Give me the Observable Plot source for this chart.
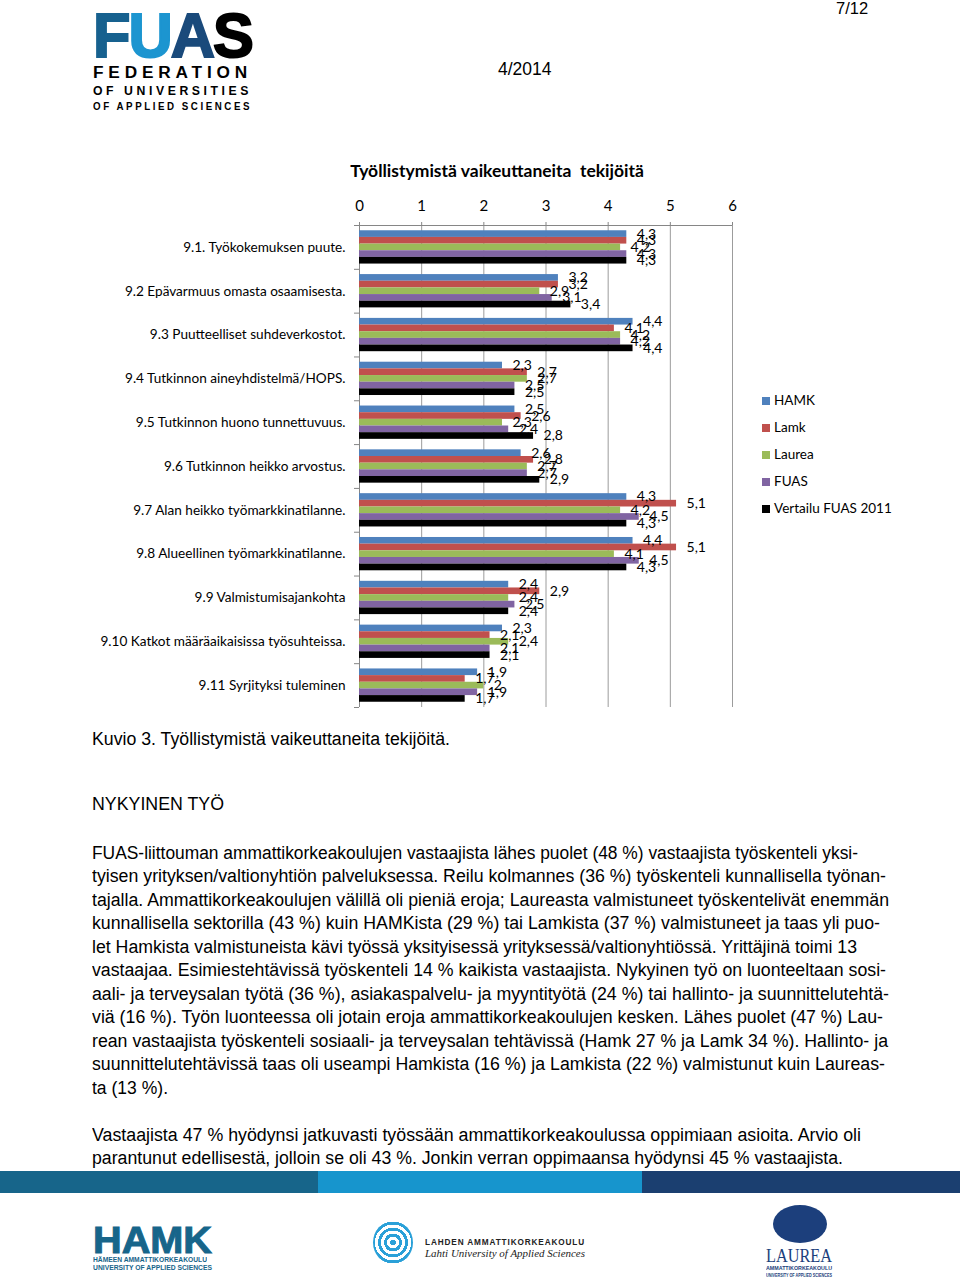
<!DOCTYPE html>
<html>
<head>
<meta charset="utf-8">
<script src="https://cdn.jsdelivr.net/npm/d3@7"></script>
<script src="https://cdn.jsdelivr.net/npm/@observablehq/plot@0.6"></script>
<style>
html,body{margin:0;padding:0;background:#fff;}
body{position:relative;width:960px;height:1279px;overflow:hidden;font-family:"Liberation Sans Narrow","Liberation Sans",Arial,sans-serif;color:#000;}
.abs{position:absolute;white-space:nowrap;transform-origin:0 50%;}
.narrow{font-family:"Liberation Sans Narrow","Liberation Sans",Arial,sans-serif;}
.cal{font-family:Lato,"Open Sans",sans-serif;}
#chart{position:absolute;left:0;top:180px;}
#chart svg{overflow:visible;}
#chart svg .tick line,#chart svg path.domain{stroke:#868686;}
#chart svg [aria-label="x-axis"] line,#chart svg [aria-label="y-axis"] line{stroke:#868686;}
#chart svg [aria-label="x-axis tick"],#chart svg [aria-label="y-axis tick"]{stroke:#868686;}
#chart svg [aria-label^="x-axis"] text{font-size:15px;fill:#000;}
.logo-l{position:absolute;white-space:nowrap;font-family:"Liberation Sans",Arial,sans-serif;font-weight:bold;transform-origin:0 50%;}
.lg-row{position:absolute;left:762px;height:16px;line-height:16px;font-family:Lato,sans-serif;font-size:13.5px;white-space:nowrap;}
.lg-sw{display:inline-block;width:8px;height:8px;margin-right:4px;vertical-align:0px;}
</style>
</head>
<body>

<!-- header -->
<div class="abs narrow" style="left:836px;top:-2px;font-size:16.5px;line-height:20px;">7/12</div>
<div class="abs narrow" style="left:498px;top:59px;font-size:17.5px;line-height:20px;">4/2014</div>

<div class="logo-l" data-w="159" style="left:93px;top:4px;font-size:63px;line-height:63px;letter-spacing:-2px;">
  <span style="color:#17618f;-webkit-text-stroke:2px #17618f">F</span><span style="color:#1c95d0;-webkit-text-stroke:2px #1c95d0">U</span><span style="color:#1a4a7b;-webkit-text-stroke:2px #1a4a7b">A</span><span style="color:#000;-webkit-text-stroke:2px #000">S</span>
</div>
<div class="logo-l" data-w="159" style="left:93px;top:64px;font-size:16px;line-height:18px;letter-spacing:4.5px;">FEDERATION</div>
<div class="logo-l" data-w="159" style="left:93px;top:83px;font-size:12px;line-height:16px;letter-spacing:3.5px;">OF UNIVERSITIES</div>
<div class="logo-l" data-w="159" style="left:93px;top:100px;font-size:10px;line-height:14px;letter-spacing:2.6px;">OF APPLIED SCIENCES</div>

<!-- chart title -->
<div class="abs cal" style="left:297px;width:400px;text-align:center;top:161px;line-height:20px;font-size:17.5px;font-weight:bold;">Työllistymistä vaikeuttaneita&nbsp; tekijöitä</div>

<div id="chart"></div>
<div id="legend"></div>

<!-- text -->
<div class="abs narrow" data-w="358" style="left:92px;top:728px;font-size:18px;line-height:22px;">Kuvio 3. Työllistymistä vaikeuttaneita tekijöitä.</div>
<div class="abs narrow" data-w="132" style="left:92px;top:793px;font-size:18px;line-height:22px;">NYKYINEN TYÖ</div>
<div id="para"></div>

<!-- footer -->
<div style="position:absolute;left:0;top:1171px;width:318px;height:22px;background:#17658a;"></div>
<div style="position:absolute;left:318px;top:1171px;width:324px;height:22px;background:#1795cd;"></div>
<div style="position:absolute;left:642px;top:1171px;width:318px;height:22px;background:#1b3f70;"></div>

<div class="logo-l" data-w="119" style="left:93px;top:1228px;font-size:37px;line-height:26px;color:#17658a;-webkit-text-stroke:1px #17658a;">HAMK</div>
<div class="logo-l" data-w="114" style="left:93px;top:1256px;font-size:7px;line-height:7px;color:#17658a;">HÄMEEN AMMATTIKORKEAKOULU</div>
<div class="logo-l" data-w="119" style="left:93px;top:1264px;font-size:7px;line-height:7px;color:#17658a;">UNIVERSITY OF APPLIED SCIENCES</div>

<div style="position:absolute;left:373px;top:1221px;width:40px;height:43px;border-radius:50%;background:repeating-radial-gradient(circle,#2aa0d8 0 3px,#fff 3px 6px);"></div>
<div class="logo-l" data-w="160" style="left:425px;top:1236px;font-size:9.5px;line-height:11px;letter-spacing:1px;color:#222;">LAHDEN AMMATTIKORKEAKOULU</div>
<div class="abs" data-w="160" style="left:425px;top:1247px;font-size:11px;line-height:13px;font-style:italic;font-family:'Liberation Serif','DejaVu Serif',serif;color:#222;">Lahti University of Applied Sciences</div>

<div style="position:absolute;left:773px;top:1205px;width:54px;height:38px;border-radius:50%;background:#1c3f7c;"></div>
<div class="abs" data-w="66" style="left:766px;top:1248px;font-size:19px;line-height:16px;font-family:'Liberation Serif','DejaVu Serif',serif;color:#1c3f7c;">LAUREA</div>
<div class="logo-l" data-w="66" style="left:766px;top:1265px;font-size:5px;line-height:6px;color:#1c3f7c;">AMMATTIKORKEAKOULU</div>
<div class="logo-l" data-w="66" style="left:766px;top:1272px;font-size:5px;line-height:6px;color:#1c3f7c;">UNIVERSITY OF APPLIED SCIENCES</div>

<script>
// ---- data ----
const categories = [
  "9.1. Työkokemuksen puute.",
  "9.2 Epävarmuus omasta osaamisesta.",
  "9.3 Puutteelliset suhdeverkostot.",
  "9.4 Tutkinnon aineyhdistelmä/HOPS.",
  "9.5 Tutkinnon huono tunnettuvuus.",
  "9.6 Tutkinnon heikko arvostus.",
  "9.7 Alan heikko työmarkkinatilanne.",
  "9.8 Alueellinen työmarkkinatilanne.",
  "9.9 Valmistumisajankohta",
  "9.10 Katkot määräaikaisissa työsuhteissa.",
  "9.11 Syrjityksi tuleminen"
];
const series = ["HAMK", "Lamk", "Laurea", "FUAS", "Vertailu FUAS 2011"];
const colors = ["#4F81BD", "#C0504D", "#9BBB59", "#8064A2", "#000000"];
const hamk     = [4.3, 3.2, 4.4, 2.3, 2.5, 2.6, 4.3, 4.4, 2.4, 2.3, 1.9];
const lamk     = [4.3, 3.2, 4.1, 2.7, 2.6, 2.8, 5.1, 5.1, 2.9, 2.1, 1.7];
const laurea   = [4.2, 2.9, 4.2, 2.7, 2.3, 2.7, 4.2, 4.1, 2.4, 2.4, 2.0];
const fuas     = [4.3, 3.1, 4.2, 2.5, 2.4, 2.7, 4.5, 4.5, 2.5, 2.1, 1.9];
const vertailu = [4.3, 3.4, 4.4, 2.5, 2.8, 2.9, 4.3, 4.3, 2.4, 2.1, 1.7];
const xTicks = [0, 1, 2, 3, 4, 5, 6];

const paragraph1 = [
  "FUAS-liittouman ammattikorkeakoulujen vastaajista lähes puolet (48 %) vastaajista työskenteli yksi-",
  "tyisen yrityksen/valtionyhtiön palveluksessa. Reilu kolmannes (36 %) työskenteli kunnallisella työnan-",
  "tajalla. Ammattikorkeakoulujen välillä oli pieniä eroja; Laureasta valmistuneet työskentelivät enemmän",
  "kunnallisella sektorilla (43 %) kuin HAMKista (29 %) tai Lamkista (37 %) valmistuneet ja taas yli puo-",
  "let Hamkista valmistuneista kävi työssä yksityisessä yrityksessä/valtionyhtiössä. Yrittäjinä toimi 13",
  "vastaajaa. Esimiestehtävissä työskenteli 14 % kaikista vastaajista. Nykyinen työ on luonteeltaan sosi-",
  "aali- ja terveysalan työtä (36 %), asiakaspalvelu- ja myyntityötä (24 %) tai hallinto- ja suunnittelutehtä-",
  "viä (16 %). Työn luonteessa oli jotain eroja ammattikorkeakoulujen kesken. Lähes puolet (47 %) Lau-",
  "rean vastaajista työskenteli sosiaali- ja terveysalan tehtävissä (Hamk 27 % ja Lamk 34 %). Hallinto- ja",
  "suunnittelutehtävissä taas oli useampi Hamkista (16 %) ja Lamkista (22 %) valmistunut kuin Laureas-",
  "ta (13 %)."
];
const paragraph1Widths = [766, 794, 797, 788, 765, 794, 797, 791, 796, 793, 76];
const paragraph2 = [
  "Vastaajista 47 % hyödynsi jatkuvasti työssään ammattikorkeakoulussa oppimiaan asioita. Arvio oli",
  "parantunut edellisestä, jolloin se oli 43 %. Jonkin verran oppimaansa hyödynsi 45 % vastaajista."
];
const paragraph2Widths = [769, 751];

// ---- chart ----
const values = [hamk, lamk, laurea, fuas, vertailu];
const rows = categories.flatMap((c, i) =>
  series.map((s, j) => ({category: c, ci: i, series: s, si: j, value: values[j][i]})));
const GAP = 0.24;                       // empty share of each category band
const BAR = (1 - GAP) / series.length;  // share of one bar
const fmt = v => String(v).replace(".", ",");

const chart = Plot.plot({
  width: 960,
  height: 540,
  marginTop: 45,
  marginBottom: 13,
  marginLeft: 359,
  marginRight: 228,
  style: {fontFamily: "Lato, sans-serif", fontSize: "13px", color: "#000", background: "transparent", overflow: "visible"},
  x: {domain: [0, 6], axis: "top", ticks: xTicks, tickSize: 4, tickPadding: 11, tickFormat: d => String(d), label: null},
  y: {domain: [0, categories.length], reverse: true, axis: "left",
      ticks: d3.range(categories.length + 1), tickSize: 5, tickFormat: () => "", label: null},
  color: {domain: series, range: colors},
  marks: [
    Plot.ruleX(xTicks.filter(d => d > 0), {stroke: "#9c9c9c", strokeWidth: 1}),
    Plot.ruleX([0], {stroke: "#868686"}),
    Plot.ruleY([0], {stroke: "#868686"}),
    Plot.rect(rows, {
      x1: 0, x2: "value",
      y1: d => d.ci + GAP / 2 + d.si * BAR,
      y2: d => d.ci + GAP / 2 + (d.si + 1) * BAR,
      fill: "series"
    }),
    Plot.text(rows, {
      x: "value",
      y: d => d.ci + GAP / 2 + (d.si + 0.5) * BAR,
      text: d => fmt(d.value),
      dx: 10, textAnchor: "start", fill: "#000", fontSize: 14
    }),
    Plot.text(categories, {
      x: 0, y: (d, i) => i + 0.5, text: d => d,
      textAnchor: "end", dx: -14, fill: "#000", fontSize: 13.6
    })
  ]
});
document.getElementById("chart").appendChild(chart);

// ---- legend ----
const legend = document.getElementById("legend");
const legendTop = 392, legendStep = 27;
series.forEach((s, i) => {
  const row = document.createElement("div");
  row.className = "lg-row";
  row.style.top = (legendTop + i * legendStep) + "px";
  const sw = document.createElement("span");
  sw.className = "lg-sw";
  sw.style.background = colors[i];
  row.appendChild(sw);
  row.appendChild(document.createTextNode(s));
  legend.appendChild(row);
});

// ---- paragraphs ----
const para = document.getElementById("para");
function addLines(lines, widths, top0) {
  lines.forEach((t, i) => {
    const d = document.createElement("div");
    d.className = "abs narrow";
    d.style.left = "92px";
    d.style.top = (top0 + i * 23.5) + "px";
    d.style.fontSize = "18px";
    d.style.lineHeight = "23px";
    d.dataset.w = widths[i];
    d.textContent = t;
    para.appendChild(d);
  });
}
addLines(paragraph1, paragraph1Widths, 841.5);
addLines(paragraph2, paragraph2Widths, 1123.5);

function fit() {
  document.querySelectorAll("[data-w]").forEach(el => {
    el.style.transform = "none";
    const w = el.getBoundingClientRect().width;
    if (w > 0) el.style.transform = "scaleX(" + (+el.dataset.w / w) + ")";
  });
}
fit();
if (document.fonts && document.fonts.ready) document.fonts.ready.then(fit);
</script>
</body>
</html>
